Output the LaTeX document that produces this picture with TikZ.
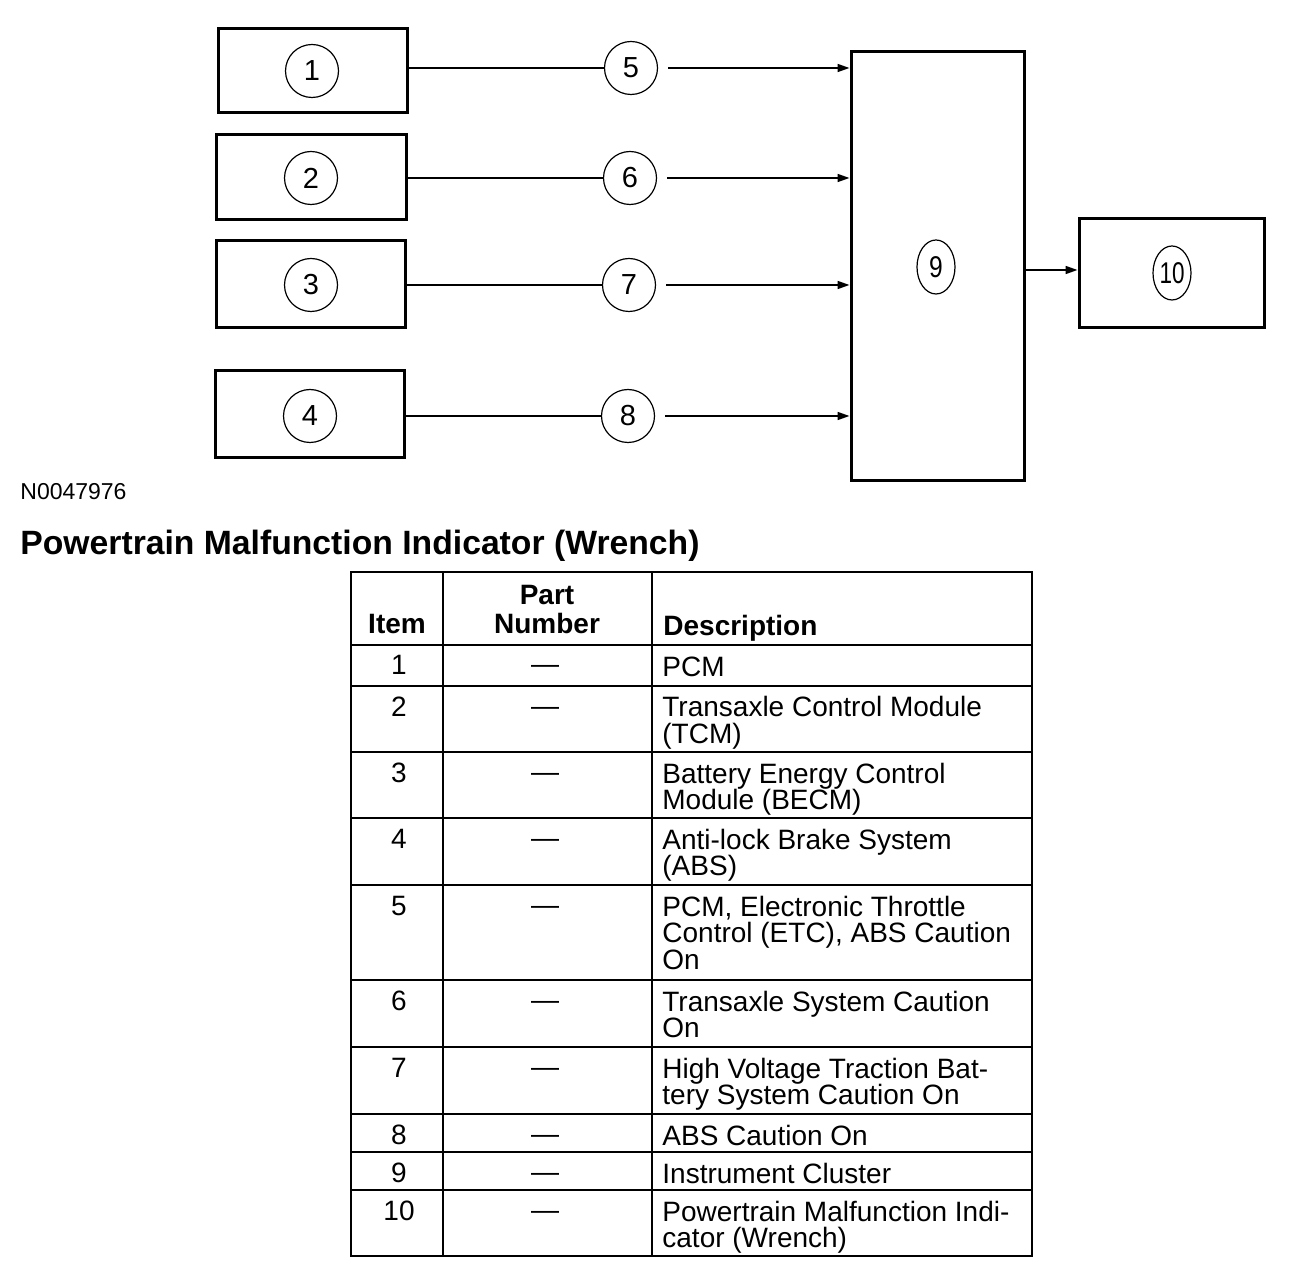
\documentclass[tikz,border=0pt]{standalone}
\usepackage{fontspec}
\setmainfont{Liberation Sans}
\usetikzlibrary{arrows.meta,shapes.geometric}
\begin{document}
\begin{tikzpicture}[x=0.5pt,y=-0.5pt,
  box/.style={draw, line width=1.5pt, inner sep=0pt},
  num/.style={draw, circle, line width=0.6pt, minimum size=26.5pt, inner sep=0pt, font=\fontsize{14.5}{14.5}\selectfont},
  enum/.style={draw, ellipse, line width=0.6pt, minimum width=19pt, minimum height=27pt, inner sep=0pt, font=\fontsize{15}{15}\selectfont},
  link/.style={line width=0.8pt},
  arr/.style={line width=0.8pt, -{Triangle[length=6pt,width=4pt]}},
  tab/.style={inner sep=0pt, font=\fontsize{14}{13.25}\selectfont},
  tabh/.style={inner sep=0pt, font=\fontsize{14}{13.25}\selectfont\bfseries},
  tabline/.style={line width=1.3pt}]
\useasboundingbox (0,0) rectangle (1312,1288);

% source boxes
\node[box, minimum width=94.5pt, minimum height=42pt] (b1) at (312.5,71) {};
\node[box, minimum width=95pt, minimum height=42.5pt] (b2) at (311,177.5) {};
\node[box, minimum width=94.5pt, minimum height=43.5pt] (b3) at (310.5,284.5) {};
\node[box, minimum width=94.5pt, minimum height=43.5pt] (b4) at (309.5,414.5) {};
\node[box, minimum width=86.5pt, minimum height=214.5pt] (b9) at (937.5,266.5) {};
\node[box, minimum width=92.5pt, minimum height=54.5pt] (b10) at (1171.5,273.5) {};

\node[num] (c1) at (312,71) {1};
\node[num] (c2) at (311,178) {2};
\node[num] (c3) at (311,285) {3};
\node[num] (c4) at (310,416) {4};
\node[num] (c5) at (631,68) {5};
\node[num] (c6) at (630,178) {6};
\node[num] (c7) at (629,285) {7};
\node[num] (c8) at (628,416) {8};
\node[enum] (c9) at (936,267) {\scalebox{0.82}[1]{9}};
\node[enum] (c10) at (1172,273) {\scalebox{0.75}[1]{10}};

% connectors
\draw[link] (b1.east |- c5) -- (c5.west);
\draw[link] (b2.east |- c6) -- (c6.west);
\draw[link] (b3.east |- c7) -- (c7.west);
\draw[link] (b4.east |- c8) -- (c8.west);
\draw[arr, shorten <=5pt] (c5.east) -- (c5 -| b9.west);
\draw[arr, shorten <=5pt] (c6.east) -- (c6 -| b9.west);
\draw[arr, shorten <=5pt] (c7.east) -- (c7 -| b9.west);
\draw[arr, shorten <=5pt] (c8.east) -- (c8 -| b9.west);
\coordinate (a10) at (1079,270);
\draw[arr] (b9.east |- a10) -- (b10.west |- a10);

% captions
\node[inner sep=0pt, anchor=base west, font=\fontsize{11.5}{11.5}\selectfont] (code) at (20,500) {N0047976};
\node[inner sep=0pt, anchor=base west, font=\fontsize{16.85}{17}\selectfont\bfseries] (title) at (20,555) {Powertrain Malfunction Indicator (Wrench)};

% table
\draw[tabline] (351,572) rectangle (1032,1256);
\draw[tabline] (443,572) -- (443,1256);
\draw[tabline] (652,572) -- (652,1256);
\foreach \yy in {645,686,752,818,885,980,1047,1114,1152,1190}
  \draw[tabline] (351,\yy) -- (1032,\yy);

\node[tabh, anchor=base] (hItem) at (397,634) {Item};
\node[tabh, anchor=base] (hPart) at (547,605) {Part};
\node[tabh, anchor=base] (hNum) at (547,634) {Number};
\node[tabh, anchor=base west] (hDesc) at (663,636) {Description};

\foreach \t/\n/\d [count=\k] in {
  645/1/{PCM},
  686/2/{Transaxle Control Module\\(TCM)},
  752/3/{Battery Energy Control\\Module (BECM)},
  818/4/{Anti-lock Brake System\\(ABS)},
  885/5/{PCM, Electronic Throttle\\Control (ETC), ABS Caution\\On},
  980/6/{Transaxle System Caution\\On},
  1047/7/{High Voltage Traction Bat-\\tery System Caution On},
  1114/8/{ABS Caution On},
  1152/9/{Instrument Cluster},
  1190/10/{Powertrain Malfunction Indi-\\cator (Wrench)}}
{
  \node[tab, anchor=base] (i\k) at (399,\t+30) {\n};
  \node[tab, anchor=base] (p\k) at (545,\t+29) {\textemdash};
  \node[tab, anchor=base west] (d\k) at (662,\t+31) {\parbox[t]{190pt}{\raggedright \d}};
}
\end{tikzpicture}
\end{document}
